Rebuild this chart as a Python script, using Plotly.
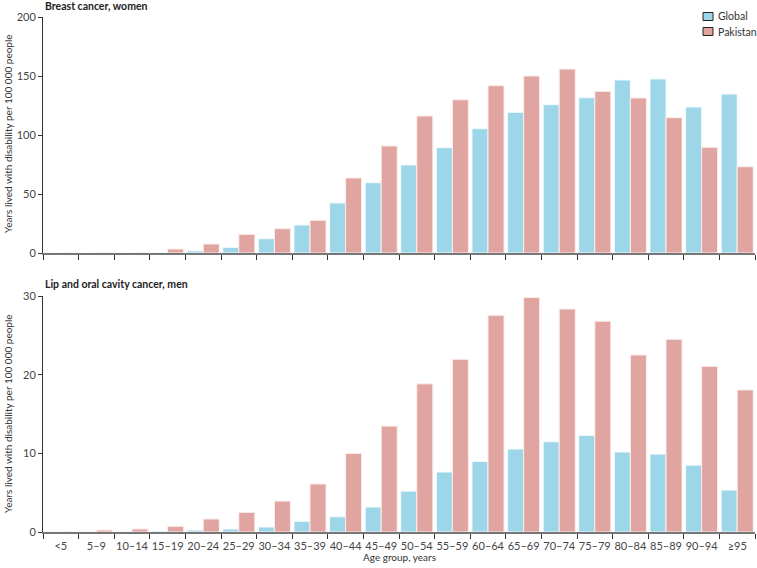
import plotly.graph_objects as go

age_groups = ["<5", "5–9", "10–14", "15–19", "20–24", "25–29", "30–34", "35–39", "40–44", "45–49",
              "50–54", "55–59", "60–64", "65–69", "70–74", "75–79", "80–84", "85–89", "90–94", "≥95"]

breast_global = [0, 0, 0, 0.3, 1.8, 4.8, 12.1, 23.7, 42.4, 59.6,
                 74.6, 89.3, 105.4, 119.2, 125.7, 131.6, 146.6, 147.5, 123.7, 134.7]
breast_pakistan = [0, 0, 0, 3.4, 7.6, 15.8, 20.6, 27.7, 63.6, 90.7,
                   116.1, 129.9, 141.8, 150.0, 155.9, 137.0, 131.4, 114.7, 89.6, 73.1]

lip_global = [0, 0, 0.05, 0.1, 0.25, 0.38, 0.63, 1.36, 1.94, 3.17,
              5.2, 7.62, 8.97, 10.54, 11.47, 12.28, 10.16, 9.9, 8.5, 5.33]
lip_pakistan = [0, 0.25, 0.38, 0.72, 1.65, 2.5, 3.93, 6.1, 9.99, 13.46,
                18.83, 21.96, 27.55, 29.8, 28.35, 26.8, 22.5, 24.5, 21.07, 18.06]

series_names = ["Global", "Pakistan"]

BLUE = "#9DD6E8"
RED = "#E0A5A0"
FONT = "Lato"

fig = go.Figure()

for xa, ya, g, p in [("x", "y", breast_global, breast_pakistan), ("x2", "y2", lip_global, lip_pakistan)]:
    fig.add_trace(go.Bar(x=age_groups, y=g, name=series_names[0], xaxis=xa, yaxis=ya,
                         marker=dict(color=BLUE, line=dict(color="#F2FAFC", width=1)), showlegend=False))
    fig.add_trace(go.Bar(x=age_groups, y=p, name=series_names[1], xaxis=xa, yaxis=ya,
                         marker=dict(color=RED, line=dict(color="#FBEDEC", width=1)), showlegend=False))

top = 17
bottom = 36
H = 568
W = 757
L = 43
pw = W - L - 2
ph = H - top - bottom
base = H - bottom


def px_x(v):
    return (v - L) / pw


def px_y(v):
    return (base - v) / ph


dom_top = [px_y(253), 1]
dom_bot = [0, px_y(296)]

axis_common = dict(showgrid=False, zeroline=False, automargin=False)
fig.update_layout(
    width=W, height=H,
    margin=dict(l=L, r=2, t=top, b=bottom, autoexpand=False),
    plot_bgcolor="white", paper_bgcolor="white",
    barmode="group", bargap=0.1, bargroupgap=0,
    showlegend=False,
    font=dict(family=FONT, size=11, color="#333"),
    xaxis=dict(domain=[0, 1], anchor="y", range=[-0.5, 19.5], showticklabels=False,
               ticks="outside", tickson="boundaries", ticklen=5, tickcolor="#333",
               showline=True, linecolor="#777", linewidth=2, **axis_common),
    yaxis=dict(domain=dom_top, anchor="x", range=[0, 200], tickvals=[0, 50, 100, 150, 200],
               ticks="outside", ticklen=4, tickcolor="#333", showline=True, linecolor="#333", linewidth=1,
               tickfont=dict(size=11, color="#444"), **axis_common),
    xaxis2=dict(domain=[0, 1], anchor="y2", range=[-0.5, 19.5], tickangle=0,
                ticks="outside", tickson="boundaries", ticklen=5, tickcolor="#333", ticklabelstandoff=3,
                showline=True, linecolor="#777", linewidth=2, tickfont=dict(size=11, color="#444"),
                **axis_common),
    yaxis2=dict(domain=dom_bot, anchor="x2", range=[0, 30], tickvals=[0, 10, 20, 30],
                ticks="outside", ticklen=4, tickcolor="#333", showline=True, linecolor="#333", linewidth=1,
                tickfont=dict(size=11, color="#444"), **axis_common),
)

# custom legend (swatch + label)
for name, col, cy in [(series_names[0], BLUE, 16.5), (series_names[1], RED, 31.5)]:
    fig.add_shape(type="rect", xref="paper", yref="paper",
                  x0=px_x(703), x1=px_x(713), y0=px_y(cy - 4), y1=px_y(cy + 4),
                  fillcolor=col, line=dict(color="#222", width=1))
    fig.add_annotation(xref="paper", yref="paper", showarrow=False, text=name,
                       x=px_x(716), y=px_y(cy), xanchor="left", yanchor="middle",
                       font=dict(size=10.5, color="#333", family=FONT))

ylab = "Years lived with disability per 100 000 people"
titles = [("Breast cancer, women", 6), ("Lip and oral cavity cancer, men", 284)]
for t, py in titles:
    fig.add_annotation(xref="paper", yref="paper", showarrow=False, font=dict(size=10.5, color="#222", family=FONT),
                       text="<b>" + t + "</b>", x=0, y=px_y(py), xanchor="left", yanchor="middle")

for yc in [134, 414]:
    fig.add_annotation(xref="paper", yref="paper", showarrow=False, text=ylab, textangle=-90,
                       x=px_x(8), y=px_y(yc), xanchor="center", yanchor="middle",
                       font=dict(size=10, color="#333", family=FONT))

fig.add_annotation(xref="paper", yref="paper", showarrow=False, text="Age group, years",
                   x=px_x(399), y=px_y(557), xanchor="center", yanchor="middle",
                   font=dict(size=10, color="#333", family=FONT))

fig.write_html("out.html", config={"displayModeBar": False},
               post_script="document.body.style.margin='0';")
